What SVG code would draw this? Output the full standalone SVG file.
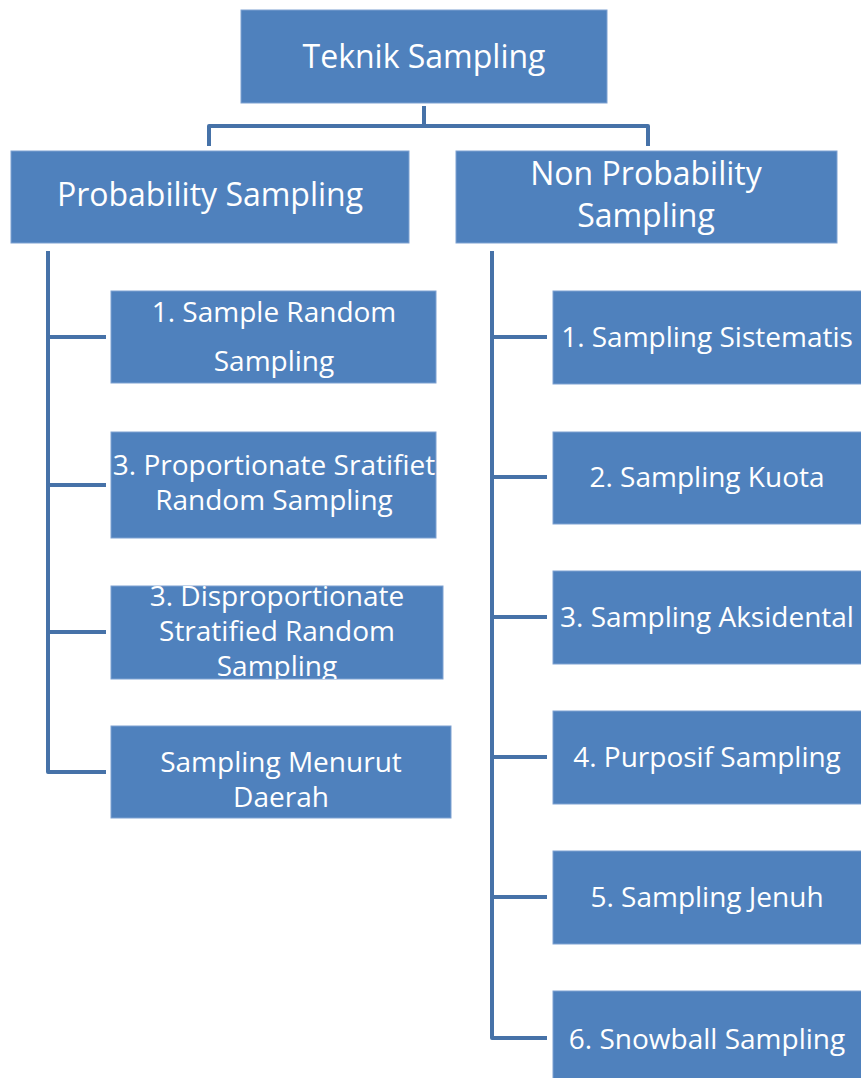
<svg xmlns="http://www.w3.org/2000/svg" width="861" height="1078" viewBox="0 0 861 1078">
<style>
.box{fill:#4F81BD;stroke:#7FA2D2;stroke-width:1}
.t{font-family:"Open Sans","Liberation Sans",sans-serif;fill:#FFFFFF;text-anchor:middle}
.h{font-size:32px}
.s{font-size:28px}
.c{fill:none;stroke:#4672A8;stroke-width:4;stroke-linejoin:round;stroke-linecap:butt}
</style>
<defs>
<clipPath id="clip3"><rect x="111" y="586" width="332" height="93"/></clipPath>
</defs>
<rect width="861" height="1078" fill="#FFFFFF"/>
<g id="connectors">
<path class="c" d="M424,106 V126 M209,146 V126 H648 V146"/>
<path class="c" d="M48,251 V772 H106 M48,337 H106 M48,485 H106 M48,632 H106"/>
<path class="c" d="M492,251 V1038 H547 M492,337 H547 M492,477 H547 M492,617 H547 M492,757 H547 M492,897 H547"/>
</g>
<g id="root">
<rect class="box" x="241" y="10" width="366" height="93"/>
<text class="t h" x="424" y="68">Teknik Sampling</text>
</g>
<g id="prob">
<rect class="box" x="11" y="151" width="398" height="92"/>
<text class="t h" x="210" y="206">Probability Sampling</text>
</g>
<g id="nonprob">
<rect class="box" x="456" y="151" width="381" height="92"/>
<text class="t h" x="646" y="185">Non Probability</text>
<text class="t h" x="646" y="227">Sampling</text>
</g>
<g id="p1">
<rect class="box" x="111" y="291" width="325" height="92"/>
<text class="t s" x="274" y="322">1. Sample Random</text>
<text class="t s" x="274" y="371">Sampling</text>
</g>
<g id="p2">
<rect class="box" x="111" y="432" width="325" height="106"/>
<text class="t s" x="274" y="475">3. Proportionate Sratifiet</text>
<text class="t s" x="274" y="510">Random Sampling</text>
</g>
<g id="p3">
<rect class="box" x="111" y="586" width="332" height="93"/>
<g clip-path="url(#clip3)">
<text class="t s" x="277" y="606">3. Disproportionate</text>
<text class="t s" x="277" y="641">Stratified Random</text>
<text class="t s" x="277" y="676">Sampling</text>
</g>
</g>
<g id="p4">
<rect class="box" x="111" y="726" width="340" height="92"/>
<text class="t s" x="281" y="772">Sampling Menurut</text>
<text class="t s" x="281" y="807">Daerah</text>
</g>
<g id="n1">
<rect class="box" x="553" y="291" width="310" height="93"/>
<text class="t s" x="707" y="347">1. Sampling Sistematis</text>
</g>
<g id="n2">
<rect class="box" x="553" y="432" width="310" height="92"/>
<text class="t s" x="707" y="487">2. Sampling Kuota</text>
</g>
<g id="n3">
<rect class="box" x="553" y="571" width="310" height="93"/>
<text class="t s" x="707" y="627">3. Sampling Aksidental</text>
</g>
<g id="n4">
<rect class="box" x="553" y="711" width="310" height="93"/>
<text class="t s" x="707" y="767">4. Purposif Sampling</text>
</g>
<g id="n5">
<rect class="box" x="553" y="851" width="310" height="93"/>
<text class="t s" x="707" y="907">5. Sampling Jenuh</text>
</g>
<g id="n6">
<rect class="box" x="553" y="991" width="310" height="95"/>
<text class="t s" x="707" y="1049">6. Snowball Sampling</text>
</g>
</svg>
